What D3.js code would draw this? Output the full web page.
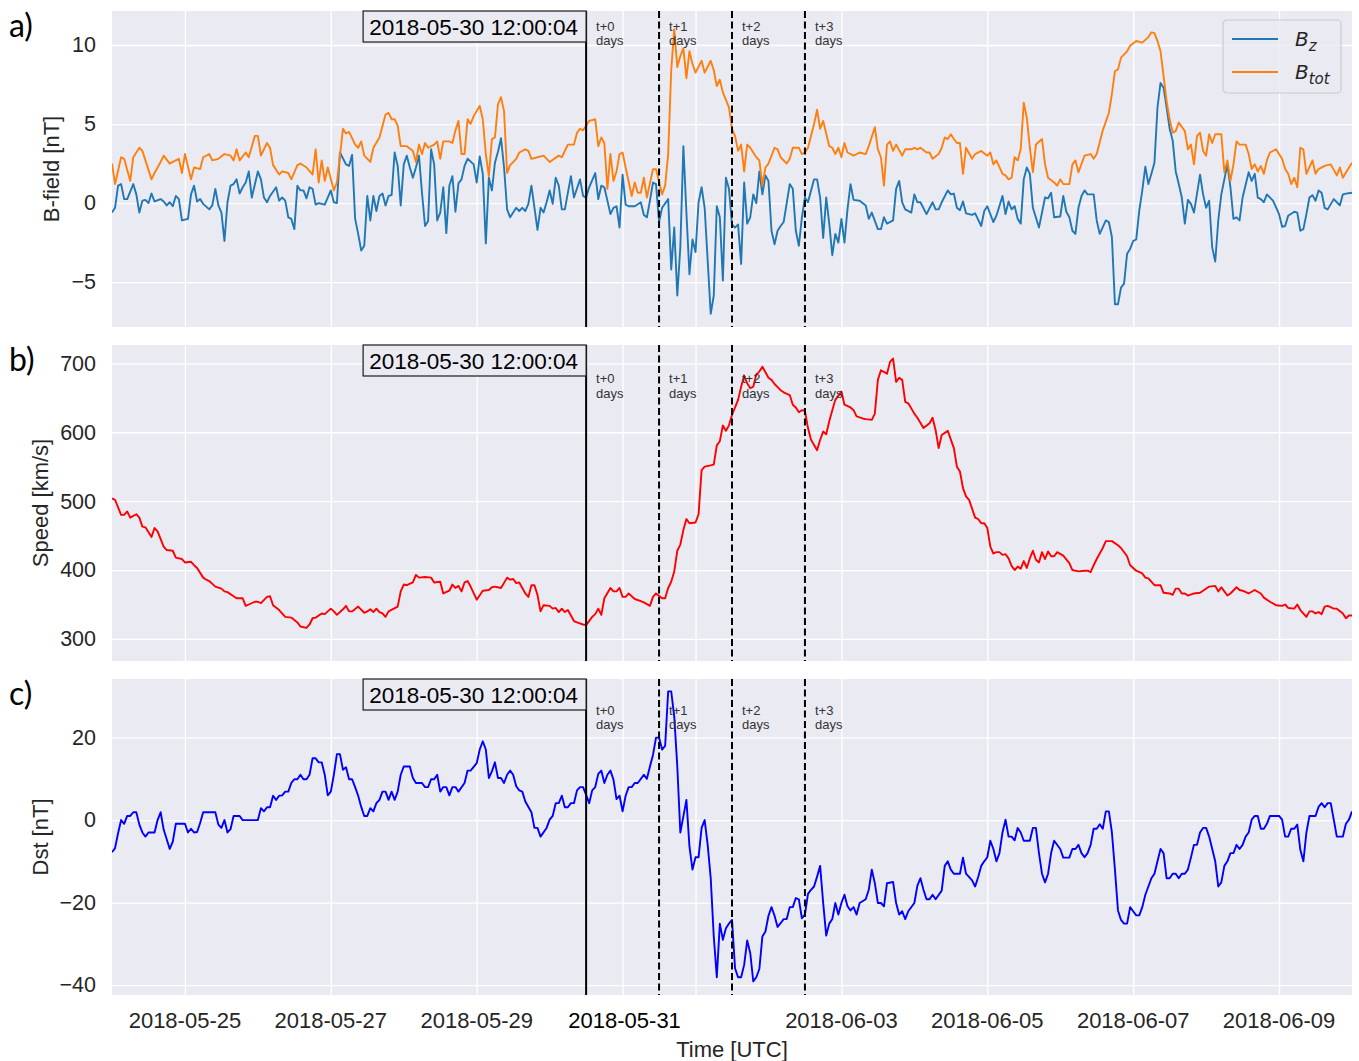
<!DOCTYPE html>
<html>
<head>
<meta charset="utf-8">
<script src="https://cdn.jsdelivr.net/npm/d3@7"></script>
<style>
  body { margin: 0; background: #ffffff; }
  svg { display: block; font-family: "Liberation Sans", Arial, sans-serif; }
</style>
</head>
<body>
<svg id="chart" width="1359" height="1061"></svg>
<script>
// ---- time axis ---------------------------------------------------------
const START = "2018-05-24T00:00:00Z";
const END = "2018-06-10T00:00:00Z";
const forecastTime = "2018-05-30T12:00:00Z";
const forecastLabel = "2018-05-30 12:00:04";
const leadDays = [0, 1, 2, 3];
const tickDates = ["2018-05-25", "2018-05-27", "2018-05-29", "2018-05-31", "2018-06-01",
                   "2018-06-03", "2018-06-05", "2018-06-07", "2018-06-09"];
const tickLabels = ["2018-05-25", "2018-05-27", "2018-05-29", "2018-05-31", "",
                    "2018-06-03", "2018-06-05", "2018-06-07", "2018-06-09"];
const bfieldTicks = [-5, 0, 5, 10];
const speedTicks = [300, 400, 500, 600, 700];
const dstTicks = [-40, -20, 0, 20];

// ---- measurements: [hours since START, value] -----------------------------
const bz = [[0,-0.6],[1,-0.3],[2,1.1],[3,1.2],[4,0.25],[5,0.25],[7,1.2],[8,0.55],[9,-0.6],[10,0.15],[11,0.2],[12,0],[13,0.6],[14,0.1],[16,0.25],[17,0.1],[18,-0.15],[19,0.05],[20,-0.2],[21,0.45],[22,0.25],[23,-1.1],[25,-1.0],[26,0.55],[27,1.1],[28,0.1],[29,0.25],[30,-0.05],[32,-0.4],[33,-0.15],[34,0.9],[35,-0.15],[36,-0.6],[37,-2.4],[38,0.05],[39,1.1],[40,1.2],[41,1.5],[42,0.6],[43,1.0],[44,1.3],[45,2.0],[46,0.35],[48,2.0],[49,1.5],[50,0.35],[51,0.05],[52,0.45],[54,1.0],[55,0.15],[56,0.35],[57,0.15],[58,-0.9],[59,-1.0],[60,-1.65],[61,1.1],[62,0.8],[63,0.8],[64,0.3],[65,1.0],[66,0.9],[67,-0.1],[68,0],[70,-0.1],[72,0.8],[73,0.05],[74,0],[75,3.2],[77,2.45],[78,2.35],[79,3.05],[80,-1.0],[81,-1.95],[82,-3.0],[83,-2.7],[84,0.45],[85,-1.1],[86,0.45],[87,-0.5],[88,0.45],[89,0.6],[90,-0.15],[91,0.45],[92,0.5],[93,3.2],[94,2.35],[95,-0.15],[96,2.45],[97,3.0],[98,2.25],[99,1.6],[100,2.25],[101,3.0],[102,0.65],[103,-1.45],[104,-1.15],[105,3.4],[106,2.45],[107,-1.1],[108,-0.6],[109,1.0],[110,-1.9],[111,1.1],[112,1.7],[113,-0.55],[114,1.25],[115,1.5],[116,2.35],[117,2.8],[119,2.45],[120,1.3],[121,2.95],[122,1.85],[123,-2.55],[124,1.6],[125,0.8],[126,2.55],[127,3.25],[128,4.1],[129,2.25],[130,-0.4],
  [131,-0.9],[133,-0.3],[134,-0.5],[135,-0.3],[136,-0.5],[137,-0.05],[138,1.1],[140,-1.7],[141,-0.3],[142,-0.6],[143,0.05],[144,0.8],[145,-0.05],[146,1.6],[147,1.1],[148,-0.4],[149,-0.4],[151,1.7],[152,0.35],[154,1.5],[155,0.45],[156,0.35],[157,1.0],[159,1.9],[160,0.25],[161,1.1],[162,1.0],[164,-0.7],[165,-0.3],[166,-0.2],[167,-1.55],[168,1.8],[169,-0.1],[170,-0.2],[172,-0.2],[174,0.05],[175,-0.75],[176,-0.9],[177,0.15],[178,1.3],[179,1.2],[180,-1.2],[181,-0.3],[183,0.25],[184,-4.2],[185,-1.55],[186,-5.85],[187,-2.8],[188,3.6],[189,-0.6],[190,-4.5],[191,-2.3],[192,-3.1],[193,0.05],[194,1.0],[195,-0.3],[197,-7.0],[198,-5.85],[199,-0.2],[200,-0.9],[201,-4.9],[202,1.6],[203,0.9],[204,-1.35],[205,-1.55],[206,-1.35],[207,-3.85],[208,1.3],[209,-1.3],[210,-0.9],[211,0.55],[212,0],[213,2.0],[214,0.55],[215,1.75],[216,1.4],[217,-1.75],[218,-2.6],[219,-1.75],[220,-1.45],[221,-1.2],[223,1.2],[224,0.9],[225,-1.75],[226,-2.7],[227,-0.9],[228,0.35],[229,0.05],[231,1.5],[232,1.5],[233,0.35],[234,-2.2],[235,0.35],[236,-1.3],[237,-3.3],[238,-1.95],[239,-2.5],[240,-1.0],[241,-2.5],[242,-0.4],[243,1.2],[244,0.2],[246,0.15],[248,-0.15],[249,-1.0],[250,-0.6],[252,-1.65],[253,-1.65],[254,-0.9],[255,-1.3],[257,-1.1],[258,0.9],[259,1.4],[260,0.05],[261,-0.4],[263,-0.6],[264,0.55],[265,0.05],[266,0.05],[268,-0.7],[270,0.05],
  [271,-0.4],[272,-0.4],[273,0.05],[275,0.8],[276,0.55],[277,0.6],[278,-0.3],[279,-0.45],[280,0.1],[281,-0.65],[283,-0.75],[284,-0.65],[286,-1.45],[287,-0.5],[288,-0.2],[290,-1.2],[291,-0.8],[293,0.45],[294,-0.7],[295,0.1],[296,-0.4],[297,-0.2],[298,-1.0],[299,-1.3],[300,1.5],[301,2.25],[302,1.85],[303,-0.3],[305,-1.55],[307,0.35],[308,0.3],[309,0.65],[310,-0.9],[312,-0.85],[313,0.45],[314,-0.55],[315,-0.9],[316,-1.75],[317,-1.95],[318,-0.3],[319,0.45],[320,0.8],[321,0.55],[323,0.55],[324,-1.1],[325,-1.95],[327,-1.1],[328,-1.2],[329,-2.15],[330,-6.4],[331,-6.4],[332,-5.35],[333,-5.1],[334,-3.2],[335,-2.9],[336,-2.4],[337,-2.3],[338,-0.5],[339,0.8],[340,2.3],[341,1.2],[342,1.85],[343,2.55],[344,6.05],[345,7.6],[346,7.3],[347,6.05],[348,4.7],[349,3.95],[350,2.0],[351,1.2],[352,0.35],[353,-1.3],[354,0.2],[355,-0.05],[356,-0.6],[358,1.8],[359,0.55],[360,-0.3],[361,0.15],[362,-2.8],[363,-3.7],[364,-1.1],[365,0.55],[367,2.45],[368,1.0],[369,-1.0],[370,-0.9],[371,-1.1],[372,0.35],[374,1.95],[375,1.4],[376,1.85],[377,0.35],[378,0.25],[379,0.05],[380,0.55],[382,0.15],[384,-0.7],[385,-1.5],[386,-1.45],[387,-0.8],[389,-0.55],[390,-0.6],[391,-1.75],[392,-1.65],[393,-0.7],[394,0.35],[395,0.5],[396,0.15],[397,0.8],[398,0.65],[399,-0.3],[400,-0.4],[402,0.25],[403,0.05],[404,-0.15],[405,0.55],[406,0.6],[408,0.65]];

const btot = [[0,2.5],[1,1.2],[3,2.9],[4,2.8],[6,1.4],[7,2.9],[9,3.5],[10,3.3],[13,1.5],[14,1.9],[16,2.6],[17,3.0],[19,2.5],[20,2.6],[22,2.8],[23,1.9],[24,3.1],[26,1.5],[27,2.25],[29,2.15],[30,2.9],[32,3.1],[33,2.7],[35,2.8],[37,3.1],[39,3.0],[40,2.7],[41,3.4],[42,2.7],[44,3.2],[45,2.9],[47,4.25],[48,4.25],[49,3.0],[51,3.8],[52,3.5],[53,2.4],[55,1.8],[56,2.0],[58,1.9],[59,1.5],[61,2.4],[62,2.5],[64,2.25],[66,1.8],[67,3.4],[68,1.3],[69,2.7],[70,1.4],[71,2.25],[73,0.8],[74,1.3],[76,4.7],[77,4.4],[78,4.5],[80,3.7],[81,3.5],[82,3.9],[83,3.0],[85,2.6],[86,3.5],[88,4.15],[90,5.6],[91,5.7],[92,5.3],[93,5.3],[94,4.9],[95,3.6],[97,3.6],[99,3.3],[100,2.6],[101,3.7],[102,3.1],[103,3.8],[104,3.5],[106,3.7],[107,3.9],[108,2.8],[109,3.9],[111,3.9],[112,3.8],[113,4.6],[114,5.2],[115,3.1],[116,3.1],[117,5.3],[118,5.0],[119,5.5],[121,6.15],[122,5.3],[123,3.1],[124,1.7],[125,4.05],[126,4.15],[127,6.25],[128,6.7],[129,5.8],[130,1.9],
  [131,2.4],[133,2.8],[134,3.2],[136,3.4],[137,3.3],[138,2.8],[140,2.9],[142,3.0],[144,2.6],[147,3.0],[148,2.9],[150,3.7],[152,3.7],[153,4.45],[154,4.7],[155,4.6],[157,5.2],[159,5.3],[160,3.6],[161,4.15],[162,3.8],[163,0.9],[164,3.1],[165,1.4],[166,2.0],[167,3.1],[168,3.2],[169,2.25],[171,0.45],[172,1.3],[173,0.65],[174,0.65],[175,1.6],[176,0.35],[178,2.15],[179,2.15],[181,0.55],[182,1.1],[183,3.1],[184,8.4],[185,11.0],[186,8.6],[187,9.3],[188,9.8],[189,7.9],[190,9.6],[191,8.8],[192,8.25],[194,9.0],[195,8.25],[197,9.0],[198,8.4],[199,7.4],[200,7.8],[201,7.0],[203,6.05],[204,4.7],[205,4.25],[206,3.3],[207,3.7],[208,2.0],[209,3.7],[210,3.5],[212,2.9],[213,2.7],[214,1.1],[215,2.25],[216,2.5],[218,3.5],[219,3.4],[220,2.9],[222,2.5],[223,2.8],[224,3.5],[226,3.5],[227,3.1],[228,3.2],[229,3.5],[231,5.0],[232,5.9],[233,4.7],[234,5.2],[236,3.6],[237,3.5],[238,3.1],[239,3.5],[240,2.9],[241,3.8],[242,3.2],[244,3.0],[246,3.2],[248,3.1],[249,3.6],[251,4.8],[252,3.4],[253,2.9],[254,1.1],[255,3.7],[256,3.9],[257,3.3],[258,3.7],[260,3.0],[261,3.4],[263,3.4],[264,3.5],[265,3.4],[266,3.5],[268,3.2],[269,3.2],[270,2.8],
  [272,3.1],[273,3.5],[274,4.15],[275,4.05],[276,4.35],[277,4.05],[278,3.8],[279,3.8],[280,1.85],[281,3.5],[283,2.8],[284,3.1],[286,3.3],[288,3.0],[289,3.2],[290,2.45],[291,2.7],[293,1.85],[294,1.75],[295,1.5],[296,1.6],[297,2.9],[298,2.7],[299,3.4],[300,6.35],[301,5.4],[302,3.5],[303,1.95],[304,3.7],[306,4.05],[307,2.45],[308,1.6],[310,1.3],[311,1.1],[312,1.5],[313,1.2],[315,1.2],[316,2.45],[317,2.7],[318,1.95],[320,3.0],[322,3.1],[323,2.8],[324,3.1],[326,4.6],[328,5.7],[329,6.9],[330,8.35],[331,8.45],[332,9.2],[334,9.6],[335,9.95],[337,10.25],[339,10.15],[341,10.5],[342,10.8],[343,10.75],[344,10.25],[345,9.6],[346,8.05],[347,6.45],[348,5.3],[349,4.45],[350,4.55],[351,5.1],[353,4.55],[354,3.4],[355,3.7],[356,2.45],[357,4.25],[358,4.45],[359,3.3],[360,3.0],[361,4.35],[362,3.8],[363,4.35],[365,4.35],[366,1.95],[367,2.7],[368,1.4],[369,2.45],[370,3.9],[371,3.7],[373,3.7],[374,3.1],[375,2.15],[376,2.45],[377,2.0],[378,2.35],[379,1.85],[380,2.7],[381,3.2],[383,3.4],[384,3.1],[385,2.8],[386,2.15],[387,1.85],[388,1.2],[389,1.6],[390,1.0],[391,3.5],[392,3.4],[393,1.85],[395,2.7],[396,1.85],[397,2.15],[399,2.35],[401,2.45],[403,1.75],[404,2.25],[405,1.6],[407,2.25],[408,2.55]];

const speed = [[0,504],[1,502],[3,480],[4,480],[5,485],[6,476],[8,481],[9,476],[10,463],[11,462],[13,448],[14,461],[15,456],[17,434],[18,429],[20,428],[21,418],[23,416],[24,411],[26,412],[27,407],[28,403],[30,389],[31,386],[32,384],[34,376],[36,373],[37,369],[38,368],[40,362],[41,359],[43,359],[44,348],[45,350],[47,354],[48,354],[49,352],[51,361],[52,362],[53,349],[55,342],[57,332],[59,331],[61,324],[62,318],[64,316],[65,321],[66,330],[67,331],[69,337],[70,336],[72,344],[73,340],[74,335],[76,343],[77,348],[78,340],[79,340],[81,347],[83,338],[84,340],[85,343],[86,339],[87,344],[88,339],[89,337],[90,332],[91,340],[94,347],[95,369],[96,379],[97,378],[99,382],[100,393],[101,389],[103,390],[105,389],[106,382],[108,383],[109,366],[111,370],[112,379],[113,374],[114,377],[115,369],[116,382],[117,384],[118,376],[120,357],[122,370],[124,371],[125,375],[126,376],[128,374],[130,389],
  [131,386],[132,387],[133,381],[134,382],[136,366],[137,361],[138,378],[139,378],[140,364],[141,340],[142,349],[144,348],[145,344],[146,345],[147,339],[148,344],[149,339],[150,342],[152,326],[153,324],[155,321],[156,320],[158,332],[159,336],[160,344],[161,335],[162,359],[164,374],[165,369],[166,369],[167,374],[168,361],[169,361],[170,366],[172,358],[174,355],[175,353],[177,348],[178,361],[179,366],[181,359],[182,359],[183,374],[184,383],[185,398],[186,428],[187,437],[188,458],[189,474],[190,468],[192,469],[193,481],[194,545],[195,550],[197,552],[198,553],[199,581],[200,587],[201,610],[202,602],[203,610],[204,625],[206,647],[207,666],[208,682],[209,671],[210,664],[211,666],[212,684],[213,688],[214,695],[216,679],[217,676],[218,670],[220,661],[221,658],[223,654],[224,640],[225,636],[226,629],[227,632],[228,631],[229,606],[230,589],[232,574],[233,589],[234,601],[235,597],[236,616],[237,632],[238,647],[240,659],[241,640],[243,636],[244,632],[245,623],[247,620],[248,619],[250,618],[251,627],[252,676],[253,690],[255,685],[256,702],[257,707],[258,673],[259,679],[260,676],[261,644],[262,642],[264,627],[265,621],[267,606],[269,613],[270,621],
  [271,603],[272,577],[273,596],[275,602],[277,577],[278,550],[279,543],[280,519],[281,507],[282,502],[284,476],[285,474],[286,468],[287,468],[288,461],[289,434],[290,424],[291,426],[292,426],[293,422],[294,423],[295,417],[296,406],[297,400],[298,405],[299,402],[300,413],[301,403],[302,417],[303,428],[304,415],[305,411],[306,426],[307,416],[308,427],[309,420],[310,420],[311,426],[313,421],[315,410],[316,400],[318,398],[320,399],[321,399],[322,397],[323,407],[324,416],[326,432],[327,442],[329,442],[331,436],[332,432],[334,420],[335,407],[337,399],[339,395],[340,389],[341,388],[343,378],[345,378],[346,367],[348,366],[349,364],[350,373],[351,373],[352,366],[353,366],[354,363],[356,366],[358,367],[359,370],[361,376],[363,377],[364,369],[365,375],[366,369],[367,363],[368,366],[370,375],[371,371],[372,370],[374,366],[376,371],[378,366],[379,360],[381,354],[383,349],[385,348],[386,350],[387,345],[389,344],[390,350],[391,342],[393,332],[394,340],[395,340],[396,337],[397,339],[398,336],[399,347],[400,348],[402,344],[403,344],[405,337],[406,330],[407,334],[408,334]];

const dst = [[0,-7.8],[1,-6.8],[2,-3.2],[3,0],[4,-0.9],[5,1.0],[6,1.0],[7,1.9],[8,1.9],[9,-1.1],[10,-3.0],[11,-4.0],[12,-3.0],[14,-3.0],[15,0],[16,1.9],[17,-2.3],[19,-7.0],[20,-5.2],[21,-0.9],[22,-0.9],[24,-0.9],[25,-3.0],[26,-2.1],[27,-3.0],[28,-2.9],[29,-0.7],[30,1.9],[32,1.9],[34,1.9],[35,-1.1],[36,-1.9],[37,0],[38,-3.0],[39,-2.2],[40,1.0],[42,1.0],[43,0],[45,0],[48,0],[49,2.9],[50,2.1],[51,3.1],[52,3.1],[53,5.9],[54,4.9],[55,5.9],[56,6.0],[57,6.9],[58,6.9],[59,9.0],[60,9.9],[61,9.9],[62,11.0],[63,9.9],[64,9.9],[65,11.0],[66,15.0],[67,15.0],[68,14.0],[69,14.0],[70,11.0],[71,6.0],[72,6.9],[73,11.0],[74,16.0],[75,16.0],[76,12.2],[77,12.8],[78,9.9],[79,9.9],[80,8.0],[81,5.9],[82,3.2],[83,1.0],[84,1.0],[85,2.9],[86,2.1],[87,4.1],[88,4.9],[89,6.9],[90,6.9],[91,4.9],[92,6.9],[93,4.9],[94,6.9],[95,11.0],[96,13.0],[98,13.0],[99,10.2],[100,9.0],[102,9.0],[103,8.0],[104,8.0],[105,9.9],[106,9.9],[107,11.0],[108,6.9],[109,8.0],[110,8.0],[111,6.0],[112,8.0],[113,8.0],[114,6.9],[116,9.0],[117,12.0],[118,12.0],[120,13.8],[121,17.1],[122,19.1],[123,17.1],[124,10.2],[125,11.8],[126,14.0],[127,10.2],[128,10.2],[129,9.0],[130,11.0],
  [131,12.0],[132,11.0],[133,8.2],[134,7.2],[135,6.9],[136,4.5],[138,1.9],[139,-1.9],[140,-1.9],[141,-4.0],[143,-1.9],[144,0.1],[145,1.0],[146,4.1],[147,4.1],[148,5.9],[149,3.1],[150,3.1],[151,4.1],[152,4.1],[153,7.2],[154,8.0],[155,8.0],[156,6.1],[157,4.1],[158,7.2],[159,8.0],[160,11.2],[161,12.0],[162,9.0],[163,11.0],[164,12.0],[165,9.8],[166,5.1],[167,5.9],[168,2.1],[169,5.9],[170,8.0],[171,8.0],[172,9.0],[173,9.0],[175,11.0],[176,10.0],[177,13.0],[178,15.8],[179,20.0],[180,20.0],[181,17.1],[182,18.0],[183,31.2],[184,31.2],[185,25.1],[186,13.0],[187,-3.0],[188,0.9],[189,4.9],[190,-6.4],[191,-12.0],[192,-9.0],[193,-9.0],[194,-1.9],[195,0],[196,-6.0],[197,-14.1],[198,-28.2],[199,-38.1],[200,-25.1],[201,-29.0],[202,-26.2],[203,-25.1],[204,-24.2],[205,-35.9],[206,-38.1],[207,-38.1],[208,-35.1],[209,-29.2],[210,-32.2],[211,-39.1],[212,-38.1],[213,-36.1],[214,-28.2],[215,-27.0],[216,-23.2],[217,-21.1],[218,-23.2],[219,-25.9],[220,-25.0],[221,-24.0],[222,-24.0],[223,-21.1],[224,-21.1],[225,-18.9],[226,-19.2],[227,-23.8],[228,-22.9],[229,-17.9],[230,-16.9],[231,-16.1],[232,-13.7],[233,-11.1],[234,-20.1],[235,-28.0],[236,-25.1],[237,-24.0],[238,-20.1],[239,-22.9],[240,-20.1],[241,-18.1],[242,-20.9],[243,-21.9],[244,-21.1],[245,-22.9],[246,-20.1],[248,-19.2],[249,-16.9],[250,-12.0],[251,-15.3],[252,-20.1],[253,-20.1],[254,-20.9],[255,-15.3],[257,-15.0],[258,-20.1],[259,-22.9],[260,-22.1],[261,-24.0],[262,-22.1],[264,-20.1],[265,-15.9],[266,-14.1],[267,-16.9],[268,-19.2],[269,-19.2],[270,-18.1],
  [271,-19.2],[273,-17.1],[274,-11.1],[275,-10.0],[276,-12.0],[277,-13.0],[279,-13.0],[280,-9.1],[281,-13.0],[283,-14.6],[284,-16.1],[285,-13.8],[286,-11.1],[287,-10.0],[288,-9.0],[289,-5.0],[290,-7.0],[291,-10.0],[292,-8.0],[293,-3.0],[294,0.1],[295,-4.0],[296,-4.0],[297,-4.9],[298,-1.9],[299,-3.0],[300,-5.0],[302,-5.0],[303,-1.9],[304,-1.9],[305,-8.0],[306,-13.0],[307,-15.1],[308,-13.0],[309,-8.0],[310,-5.0],[312,-7.0],[313,-9.1],[315,-9.1],[316,-7.0],[317,-7.0],[318,-6.0],[319,-8.0],[320,-9.0],[321,-8.0],[322,-6.0],[323,-2.1],[324,-2.1],[325,-1.0],[326,-2.1],[327,2.1],[328,2.1],[329,-3.0],[330,-12.0],[331,-21.9],[332,-24.2],[333,-25.1],[334,-25.1],[335,-21.1],[336,-22.1],[337,-23.1],[338,-23.1],[339,-21.1],[340,-18.1],[341,-16.1],[342,-14.1],[343,-13.0],[344,-10.0],[345,-7.0],[346,-8.0],[347,-14.1],[348,-14.1],[349,-13.0],[350,-13.0],[351,-14.1],[352,-13.0],[353,-13.0],[354,-12.0],[355,-9.1],[356,-6.0],[357,-6.0],[358,-3.0],[359,-1.9],[360,-1.9],[361,-4.0],[363,-10.0],[364,-16.1],[365,-15.1],[366,-11.1],[367,-10.0],[368,-8.0],[369,-8.0],[370,-6.0],[371,-7.0],[372,-6.0],[373,-4.0],[374,-3.0],[375,0.1],[376,1.0],[377,1.0],[378,-2.1],[379,-2.1],[380,-0.9],[381,1.0],[384,1.0],[385,0.1],[386,-4.0],[387,-4.0],[388,-2.1],[389,-2.1],[390,-1.1],[391,-7.2],[392,-10.0],[393,-3.0],[394,1.0],[396,1.0],[397,3.2],[398,4.1],[399,3.1],[400,4.1],[401,4.1],[402,0.1],[403,-4.0],[405,-4.0],[406,-0.9],[407,0.1],[408,2.1]];

// ---- layout ------------------------------------------------------------
const svg = d3.select("#chart");
const plotLeft = 112, plotRight = 1352;
const t0 = new Date(START).getTime();
const HOUR = 3600 * 1000;
const asPoints = arr => arr.map(([h, v]) => ({ t: new Date(t0 + h * HOUR), v }));

const x = d3.scaleUtc()
  .domain([new Date(START), new Date(END)])
  .range([plotLeft, plotRight]);

const fmtSigned = d => (d < 0 ? "\u2212" + Math.abs(d) : String(d));

const panels = [
  { id: "a", letter: "a)", top: 11, bottom: 327, domain: [-7.84, 12.15], ticks: bfieldTicks,
    label: "B-field [nT]", labelX: 51, leadY: [20, 34],
    series: [{ data: bz, color: "#1f77b4" }, { data: btot, color: "#ff7f0e" }] },
  { id: "b", letter: "b)", top: 345, bottom: 661, domain: [268, 726.6], ticks: speedTicks,
    label: "Speed [km/s]", labelX: 40, leadY: [38, 53],
    series: [{ data: speed, color: "#ff0000" }] },
  { id: "c", letter: "c)", top: 679, bottom: 995, domain: [-42.4, 34.2], ticks: dstTicks,
    label: "Dst [nT]", labelX: 40, leadY: [36, 50],
    series: [{ data: dst, color: "#0000ff" }] }
];

const defs = svg.append("defs");

panels.forEach(p => {
  const y = d3.scaleLinear().domain(p.domain).range([p.bottom, p.top]);
  const g = svg.append("g").attr("class", "panel-" + p.id);
  const h = p.bottom - p.top;

  defs.append("clipPath").attr("id", "clip-" + p.id)
    .append("rect").attr("x", plotLeft).attr("y", p.top)
    .attr("width", plotRight - plotLeft).attr("height", h);

  // face
  g.append("rect").attr("x", plotLeft).attr("y", p.top)
    .attr("width", plotRight - plotLeft).attr("height", h)
    .attr("fill", "#eaeaf2");

  // horizontal grid
  g.append("g")
    .attr("transform", `translate(${plotLeft},0)`)
    .call(d3.axisLeft(y).tickValues(p.ticks).tickSize(-(plotRight - plotLeft)).tickFormat(""))
    .call(s => s.select(".domain").remove())
    .call(s => s.selectAll("line").attr("stroke", "#ffffff").attr("stroke-width", 1.3));

  // vertical grid
  g.append("g")
    .attr("transform", `translate(0,${p.bottom})`)
    .call(d3.axisBottom(x).tickValues(tickDates.map(d => new Date(d + "T00:00:00Z")))
      .tickSize(-h).tickFormat(""))
    .call(s => s.select(".domain").remove())
    .call(s => s.selectAll("line").attr("stroke", "#ffffff").attr("stroke-width", 1.3));

  // y tick labels
  g.append("g")
    .attr("transform", `translate(${plotLeft},0)`)
    .call(d3.axisLeft(y).tickValues(p.ticks).tickSize(0).tickPadding(16).tickFormat(fmtSigned))
    .call(s => s.select(".domain").remove())
    .call(s => s.selectAll("text")
      .attr("fill", "#262626")
      .style("font-family", '"Liberation Sans", Arial, sans-serif')
      .style("font-size", "21.5px"));

  // y axis title
  g.append("text")
    .attr("transform", `translate(${p.labelX},${(p.top + p.bottom) / 2}) rotate(-90)`)
    .attr("text-anchor", "middle")
    .attr("dy", "0.35em")
    .attr("fill", "#262626")
    .style("font-size", "22px")
    .text(p.label);

  // panel letter
  g.append("text")
    .attr("x", 9).attr("y", p.top + 26)
    .attr("fill", "#000")
    .style("font-family", 'Lato, "Open Sans", sans-serif')
    .style("font-size", "32px")
    .text(p.letter);

  // data lines
  const line = d3.line().x(d => x(d.t)).y(d => y(d.v));
  const lines = g.append("g").attr("clip-path", `url(#clip-${p.id})`);
  p.series.forEach(s => {
    lines.append("path")
      .datum(asPoints(s.data))
      .attr("fill", "none")
      .attr("stroke", s.color)
      .attr("stroke-width", 1.9)
      .attr("stroke-linejoin", "round")
      .attr("d", line);
  });

  // forecast time and lead-day markers
  const ft = new Date(forecastTime).getTime();
  leadDays.forEach(k => {
    const xv = x(new Date(ft + k * 24 * HOUR));
    if (k > 0) {
      g.append("line")
        .attr("x1", xv).attr("x2", xv).attr("y1", p.top).attr("y2", p.bottom)
        .attr("stroke", "#000").attr("stroke-width", 2)
        .attr("stroke-dasharray", "7,3.5");
    }
    const lab = g.append("text").attr("fill", "#333333").style("font-size", "13px");
    lab.append("tspan").attr("x", xv + 10).attr("y", p.top + p.leadY[0]).text(`t+${k}`);
    lab.append("tspan").attr("x", xv + 10).attr("y", p.top + p.leadY[1]).text("days");
  });
  const fx = x(new Date(ft));
  g.append("line")
    .attr("x1", fx).attr("x2", fx).attr("y1", p.top).attr("y2", p.bottom)
    .attr("stroke", "#000").attr("stroke-width", 2);

  // forecast time box
  const boxW = 223, boxH = 31;
  g.append("rect")
    .attr("x", fx - boxW).attr("y", p.top).attr("width", boxW).attr("height", boxH)
    .attr("fill", "#eaeaf2").attr("stroke", "#1a1a1a").attr("stroke-width", 1.2);
  g.append("text")
    .attr("x", fx - boxW / 2 - 1).attr("y", p.top + boxH / 2)
    .attr("dy", "0.36em").attr("text-anchor", "middle")
    .attr("fill", "#000").style("font-size", "22.5px")
    .text(forecastLabel);

  // x tick labels on the bottom panel only
  if (p.id === "c") {
    tickDates.forEach((d, i) => {
      if (!tickLabels[i]) return;
      const highlighted = d === "2018-05-31";
      g.append("text")
        .attr("x", x(new Date(d + "T00:00:00Z")) + (highlighted ? 2 : 0))
        .attr("y", 1028)
        .attr("text-anchor", "middle")
        .attr("fill", highlighted ? "#000000" : "#262626")
        .style("font-size", "22px")
        .text(tickLabels[i]);
    });
    g.append("text")
      .attr("x", (plotLeft + plotRight) / 2)
      .attr("y", 1057)
      .attr("text-anchor", "middle")
      .attr("fill", "#262626")
      .style("font-size", "22px")
      .text("Time [UTC]");
  }

  // legend for the magnetic field panel
  if (p.id === "a") {
    const lg = g.append("g").attr("transform", "translate(1223,20)");
    lg.append("rect").attr("width", 118).attr("height", 73).attr("rx", 4)
      .attr("fill", "#eaeaf2").attr("fill-opacity", 0.8)
      .attr("stroke", "#cccccc").attr("stroke-width", 1.2);
    const entries = [
      { name: "B", sub: "z", color: "#1f77b4", yy: 19 },
      { name: "B", sub: "tot", color: "#ff7f0e", yy: 52 }
    ];
    entries.forEach(e => {
      lg.append("line").attr("x1", 9).attr("x2", 55).attr("y1", e.yy).attr("y2", e.yy)
        .attr("stroke", e.color).attr("stroke-width", 1.9);
      const t = lg.append("text").attr("x", 72).attr("y", e.yy + 7)
        .attr("fill", "#262626")
        .style("font-family", '"DejaVu Sans", sans-serif')
        .style("font-style", "italic")
        .style("font-size", "20px");
      t.append("tspan").text(e.name);
      t.append("tspan").attr("dy", 5).style("font-size", "15px").text(e.sub);
    });
  }
});
</script>
</body>
</html>
